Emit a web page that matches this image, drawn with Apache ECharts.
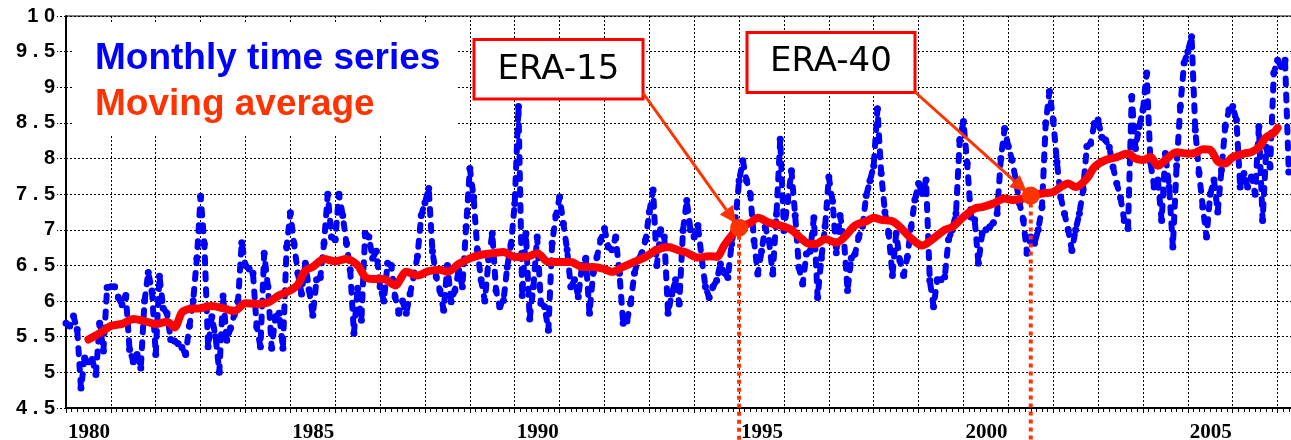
<!DOCTYPE html>
<html>
<head>
<meta charset="utf-8">
<script src="https://cdn.jsdelivr.net/npm/echarts@6/dist/echarts.min.js"></script>
<style>
  html, body { margin: 0; padding: 0; background: #fff; }
  #chart { width: 1291px; height: 440px; }
</style>
</head>
<body>
<div id="chart"></div>
<script>
// monthly values, month 0 = Jan 1980
const monthly = [
  5.69, 5.65, 5.79, 5.60, 4.78, 5.20, 5.15, 5.18, 4.97, 5.69, 5.30, 6.19, // 1980
  6.20, 6.20, 6.05, 5.95, 6.08, 5.32, 5.15, 5.25, 5.06, 6.00, 6.40, 6.14, // 1981
  5.25, 6.35, 5.90, 5.83, 5.46, 5.44, 5.40, 5.35, 5.25, 5.65, 6.00, 6.60, // 1982
  7.47, 6.80, 5.36, 5.78, 5.50, 5.00, 6.07, 5.45, 5.62, 5.81, 6.00, 6.82, // 1983
  6.50, 6.45, 6.39, 5.64, 5.36, 6.67, 6.20, 5.34, 5.78, 5.83, 5.34, 6.76, // 1984
  7.24, 6.80, 6.39, 6.10, 6.53, 6.16, 5.80, 6.30, 6.33, 6.81, 7.50, 6.90, // 1985
  6.86, 7.50, 7.20, 6.81, 6.44, 5.55, 6.18, 5.73, 6.95, 6.90, 6.60, 6.70, // 1986
  6.20, 6.00, 6.53, 6.50, 6.06, 5.83, 6.00, 5.83, 6.10, 6.35, 6.63, 7.20, // 1987
  7.38, 7.58, 6.70, 6.34, 6.15, 5.87, 6.50, 5.99, 6.15, 6.43, 6.20, 7.04, // 1988
  7.86, 7.46, 6.72, 6.30, 6.00, 6.58, 6.95, 6.15, 5.92, 6.01, 6.48, 6.79, // 1989
  7.37, 8.73, 6.08, 6.95, 5.75, 6.20, 6.90, 5.97, 5.92, 5.59, 6.81, 7.20, // 1990
  7.46, 7.09, 6.72, 6.20, 6.30, 6.06, 6.50, 6.60, 5.83, 6.40, 6.62, 6.86, // 1991
  7.02, 6.76, 6.72, 6.90, 6.39, 5.69, 5.72, 5.97, 6.39, 6.58, 6.67, 6.86, // 1992
  7.25, 7.56, 6.50, 7.00, 6.90, 5.83, 6.10, 6.30, 5.96, 6.99, 7.41, 7.00, // 1993
  6.90, 7.06, 6.60, 6.20, 6.05, 6.20, 6.29, 6.52, 6.40, 6.33, 6.80, 7.13, // 1994
  7.69, 7.97, 7.69, 7.50, 6.85, 6.38, 6.70, 7.04, 6.85, 6.38, 7.22, 8.27, // 1995
  6.99, 7.40, 7.83, 7.20, 6.47, 6.24, 6.66, 6.70, 7.17, 6.05, 6.60, 7.05, // 1996
  7.74, 7.40, 6.68, 7.20, 6.90, 6.15, 6.60, 6.66, 6.90, 7.05, 7.48, 7.69, // 1997
  7.90, 8.70, 7.79, 7.25, 6.95, 6.36, 6.95, 6.57, 6.36, 6.62, 7.04, 7.42, // 1998
  7.65, 7.51, 7.70, 6.29, 5.92, 6.30, 6.30, 6.34, 6.86, 7.00, 7.23, 8.26, // 1999
  8.52, 7.93, 7.18, 7.14, 6.53, 6.95, 7.00, 7.04, 7.10, 7.23, 8.00, 8.42, // 2000
  8.17, 7.98, 7.70, 7.37, 7.14, 6.67, 6.90, 6.81, 7.00, 7.32, 8.50, 8.94, // 2001
  8.54, 7.95, 7.46, 7.23, 7.00, 6.71, 7.00, 7.23, 7.56, 8.17, 8.21, 8.49, // 2002
  8.54, 8.30, 8.26, 8.16, 7.88, 7.65, 7.45, 7.13, 7.02, 8.87, 8.14, 8.45, // 2003
  8.68, 9.20, 7.95, 7.60, 7.70, 7.13, 8.07, 7.60, 6.76, 7.90, 8.73, 9.34, // 2004
  9.50, 9.71, 8.40, 7.80, 7.32, 6.90, 7.50, 7.70, 7.25, 7.84, 8.45, 8.68, // 2005
  8.73, 8.54, 7.60, 7.79, 7.60, 7.74, 7.50, 8.45, 7.13, 8.16, 7.88, 9.20, // 2006
  9.38, 9.29, 9.38, 7.81                                                  // 2007
];

// moving average
const maMonth = [6, 9, 12, 15, 18, 21, 24, 27, 29, 31, 33, 36, 39, 42, 45, 48, 51, 54, 57, 60,
  62, 64, 66, 69, 72, 75, 78, 80, 82, 85, 88, 91, 94, 97, 100, 102, 105, 108, 111, 114,
  117, 120, 123, 126, 129, 132, 135, 138, 141, 144, 146, 149, 152, 155, 158, 161, 164, 166, 169, 172,
  174, 176, 178, 180, 183, 185, 188, 191, 194, 197, 199, 201, 203, 206, 208, 211, 214, 216, 218, 221,
  223, 226, 229, 232, 235, 237, 240, 243, 245, 248, 251, 253, 256, 258, 261, 264, 266, 268, 270, 273,
  275, 278, 281, 284, 286, 288, 290, 292, 294, 297, 300, 302, 304, 306, 308, 310, 312, 315, 317, 319,
  321, 323, 324];
const maValue = [5.46, 5.55, 5.65, 5.68, 5.75, 5.72, 5.68, 5.71, 5.63, 5.84, 5.89, 5.90, 5.93, 5.90, 5.86, 5.97, 5.96, 5.98, 6.08, 6.15,
  6.23, 6.43, 6.48, 6.59, 6.56, 6.59, 6.50, 6.34, 6.31, 6.31, 6.22, 6.41, 6.36, 6.42, 6.44, 6.41, 6.52, 6.60, 6.65, 6.67,
  6.69, 6.62, 6.62, 6.67, 6.55, 6.55, 6.55, 6.48, 6.48, 6.45, 6.41, 6.48, 6.55, 6.62, 6.72, 6.76, 6.71, 6.68, 6.61, 6.63,
  6.62, 6.78, 6.92, 7.03, 7.10, 7.17, 7.10, 7.06, 7.00, 6.86, 6.80, 6.81, 6.87, 6.82, 6.89, 7.06, 7.12, 7.17, 7.14, 7.12,
  7.04, 6.88, 6.78, 6.88, 7.00, 7.04, 7.18, 7.30, 7.32, 7.37, 7.44, 7.42, 7.44, 7.47, 7.51, 7.53, 7.60, 7.65, 7.60, 7.72,
  7.88, 7.98, 8.02, 8.07, 8.00, 7.98, 8.02, 7.90, 7.98, 8.09, 8.07, 8.08, 8.13, 8.12, 7.96, 7.93, 8.02, 8.07, 8.09, 8.16,
  8.30, 8.36, 8.43];

const yearLabels = ['1980', '1985', '1990', '1995', '2000', '2005'];

const eraNames = ['ERA-15', 'ERA-40'];
const eraMonth = [180, 258];
const eraValue = [7.03, 7.48];

const chart = echarts.init(document.getElementById('chart'));

chart.setOption({
  animation: false,
  grid: {
    left: 66, top: 16, width: 1234, bottom: 32,
    outerBoundsMode: 'none',
    containLabel: false,
    show: true, borderColor: '#000', borderWidth: 1
  },
  xAxis: {
    type: 'value',
    min: 0,
    max: 330,
    interval: 12,
    axisLine: { onZero: false, lineStyle: { color: '#000', width: 2 } },
    axisTick: { show: true, length: 5, lineStyle: { color: '#000' } },
    minorTick: { show: true, splitNumber: 8, length: 4, lineStyle: { color: '#000' } },
    axisLabel: {
      align: 'left',
      margin: 14,
      padding: [0, 0, 0, 2],
      fontFamily: 'Liberation Serif',
      fontWeight: 'bold',
      fontSize: 21,
      color: '#000',
      formatter: v => (v % 60 === 0 && yearLabels[v / 60]) ? yearLabels[v / 60] : ''
    },
    splitLine: { show: true, lineStyle: { color: '#000', width: 1, type: [2, 2] } }
  },
  yAxis: {
    type: 'value',
    min: 4.5,
    max: 10,
    interval: 0.5,
    axisLine: { show: true, lineStyle: { color: '#000', width: 2 } },
    axisTick: { show: true, length: 9, lineStyle: { color: '#000', type: [2, 2] } },
    axisLabel: {
      margin: 11,
      fontFamily: 'Liberation Sans',
      fontWeight: 'bold',
      fontSize: 20,
      color: '#000',
      formatter: v => String(v).split('').join(' ')
    },
    splitLine: { lineStyle: { color: '#000', width: 1, type: [2, 2] } }
  },
  series: [
    {
      name: 'Monthly time series',
      type: 'line',
      data: monthly.map((v, i) => [i, v]),
      showSymbol: true,
      symbol: 'circle',
      symbolSize: 7,
      itemStyle: { color: '#0000ff' },
      lineStyle: { color: '#0000ff', width: 6, type: [6, 10], cap: 'round', join: 'round' },
      z: 3
    },
    {
      name: 'Moving average',
      type: 'line',
      data: maMonth.map((m, i) => [m, maValue[i]]),
      showSymbol: false,
      smooth: 0.3,
      lineStyle: { color: '#ff0000', width: 8, cap: 'round', join: 'round' },
      z: 4
    },
    {
      type: 'scatter',
      data: eraMonth.map((m, i) => [m, eraValue[i]]),
      symbolSize: 18,
      itemStyle: { color: '#ff3300', opacity: 1 },
      z: 6
    }
  ]
});

function arrow(x1, y1, x2, y2) {
  const dx = x2 - x1, dy = y2 - y1;
  const len = Math.hypot(dx, dy), ux = dx / len, uy = dy / len;
  const tx = x2 - ux * 5, ty = y2 - uy * 5;
  const bx = tx - ux * 17, by = ty - uy * 17;
  return [
    { type: 'line', z: 110, silent: true,
      shape: { x1: x1, y1: y1, x2: bx, y2: by },
      style: { stroke: '#ff3300', lineWidth: 3 } },
    { type: 'polygon', z: 110, silent: true,
      shape: { points: [[tx, ty], [bx - uy * 8, by + ux * 8], [bx + uy * 8, by - ux * 8]] },
      style: { fill: '#ff3300' } }
  ];
}

const p15 = chart.convertToPixel({ gridIndex: 0 }, [eraMonth[0], eraValue[0]]);
const p40 = chart.convertToPixel({ gridIndex: 0 }, [eraMonth[1], eraValue[1]]);

const elements = [
  // legend box
  { type: 'rect', z: 50, silent: true, shape: { x: 72, y: 23, width: 386, height: 111 }, style: { fill: '#fff' } },
  { type: 'text', z: 51, silent: true,
    style: { x: 95, y: 59, text: 'Monthly time series', font: 'bold 37px "Liberation Sans"', fill: '#0000ff',
      textVerticalAlign: 'middle', verticalAlign: 'middle' } },
  { type: 'text', z: 51, silent: true,
    style: { x: 95, y: 105, text: 'Moving average', font: 'bold 37px "Liberation Sans"', fill: '#ff3300',
      textVerticalAlign: 'middle', verticalAlign: 'middle' } },
  // ERA boxes
  { type: 'rect', z: 60, silent: true, shape: { x: 474, y: 39.5, width: 169, height: 59.5 },
    style: { fill: '#fff', stroke: '#ff0000', lineWidth: 3 } },
  { type: 'text', z: 61, silent: true,
    style: { x: 558.5, y: 70, text: eraNames[0], font: '34px "DejaVu Sans"', fill: '#000',
      textAlign: 'center', align: 'center', textVerticalAlign: 'middle', verticalAlign: 'middle' } },
  { type: 'rect', z: 60, silent: true, shape: { x: 747, y: 32.5, width: 168, height: 60 },
    style: { fill: '#fff', stroke: '#ff0000', lineWidth: 3 } },
  { type: 'text', z: 61, silent: true,
    style: { x: 831, y: 62.5, text: eraNames[1], font: '34px "DejaVu Sans"', fill: '#000',
      textAlign: 'center', align: 'center', textVerticalAlign: 'middle', verticalAlign: 'middle' } },
  // dotted drop lines
  { type: 'line', z: 100, silent: true, shape: { x1: p15[0], y1: p15[1], x2: p15[0], y2: 440 },
    style: { stroke: '#ff3300', lineWidth: 4, lineDash: [4, 4] } },
  { type: 'line', z: 100, silent: true, shape: { x1: p40[0], y1: p40[1], x2: p40[0], y2: 440 },
    style: { stroke: '#ff3300', lineWidth: 4, lineDash: [4, 4] } }
].concat(arrow(643, 93, p15[0], p15[1]), arrow(915, 92, p40[0], p40[1]));

chart.setOption({ graphic: { elements: elements } });
</script>
</body>
</html>
